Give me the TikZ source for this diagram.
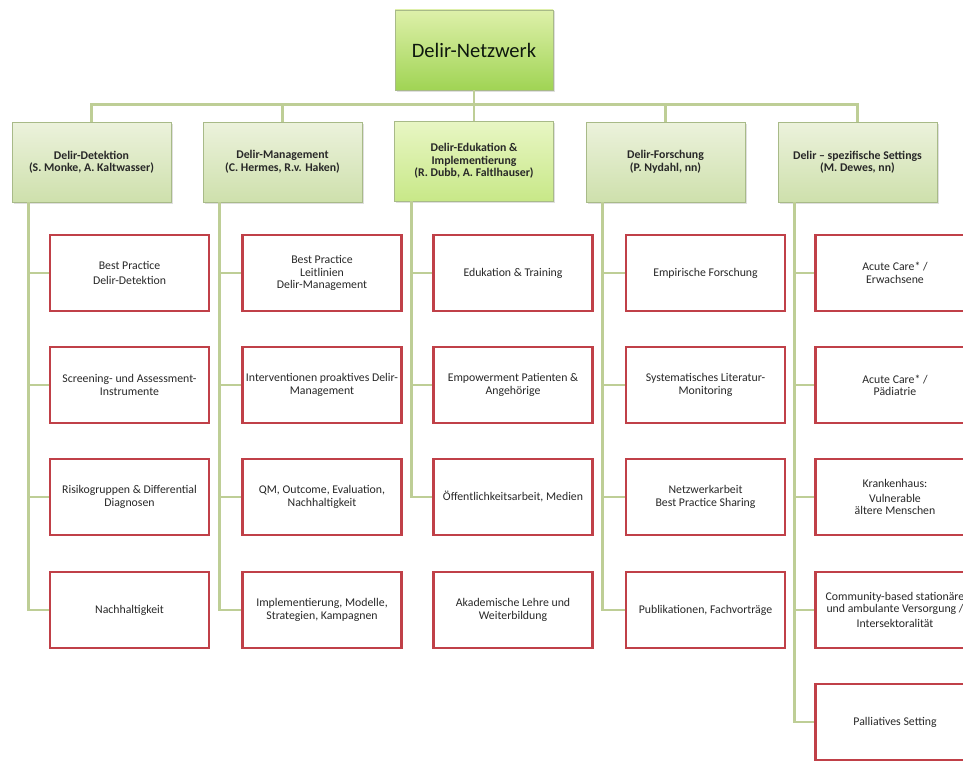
\documentclass[tikz,border=0pt]{standalone}
\usepackage{fontspec}
\setmainfont{Carlito}
\usetikzlibrary{shadows}

\definecolor{linegreen}{RGB}{190,206,150}
\definecolor{boxred}{RGB}{192,64,72}
\definecolor{headtop}{RGB}{236,242,220}
\definecolor{headbot}{RGB}{206,224,172}
\definecolor{edutop}{RGB}{232,246,196}
\definecolor{edubot}{RGB}{200,232,136}
\definecolor{nettop}{RGB}{222,240,170}
\definecolor{netbot}{RGB}{160,212,84}
\definecolor{headline}{RGB}{168,186,136}
\definecolor{txt}{RGB}{40,40,40}

\begin{document}
\begin{tikzpicture}[x=1pt,y=1pt]
        % Define the styles for the boxes and lines
        \tikzset{
          netbox/.style={draw=headline,line width=0.6pt,top color=nettop,bottom color=netbot,
            minimum width=158pt,minimum height=80pt,font=\fontsize{20.5}{24}\selectfont,text=txt!90!green!40!black,
            drop shadow={shadow xshift=1.5pt,shadow yshift=-1.5pt,opacity=0.25}},
          headbox/.style={draw=headline,line width=0.6pt,top color=headtop,bottom color=headbot,
            minimum width=159pt,minimum height=80pt,align=center,font=\fontsize{11.8}{12.5}\selectfont\bfseries,text=txt,
            drop shadow={shadow xshift=1.5pt,shadow yshift=-1.5pt,opacity=0.25}},
          edubox/.style={headbox,top color=edutop,bottom color=edubot},
          itembox/.style={draw=boxred,line width=2.6pt,fill=white,minimum width=159pt,minimum height=76pt,
            align=center,font=\fontsize{11.8}{12.3}\selectfont,text=txt},
          link/.style={draw=linegreen,line width=2.6pt}
        }
        \useasboundingbox (0,0) rectangle (963,-760);
        \clip (0,0) rectangle (963,-760);

        % Nodes
        \node[netbox] (net) at (474,-50) {Delir-Netzwerk};

        \node[headbox] (h1) at (91.5,-162) {Delir-Detektion\\(S. Monke, A. Kaltwasser)};
        \node[headbox] (h2) at (282.5,-162) {Delir-Management\\(C. Hermes, R.v. Haken)};
        \node[edubox] (h3) at (474,-161) {Delir-Edukation \&\\Implementierung\\(R. Dubb, A. Faltlhauser)};
        \node[headbox] (h4) at (665.5,-162) {Delir-Forschung\\(P. Nydahl, nn)};
        \node[headbox] (h5) at (857.5,-162) {Delir -- spezifische Settings\\(M. Dewes, nn)};

        \node[itembox] (c11) at (129.5,-273) {Best Practice\\[3pt]Delir-Detektion};
        \node[itembox] (c12) at (129.5,-385) {Screening- und Assessment-\\Instrumente};
        \node[itembox] (c13) at (129.5,-497) {Risikogruppen \& Differential\\Diagnosen};
        \node[itembox] (c14) at (129.5,-610) {Nachhaltigkeit};

        \node[itembox] (c21) at (322,-273) {Best Practice\\Leitlinien\\Delir-Management};
        \node[itembox] (c22) at (322,-385) {Interventionen proaktives Delir-\\Management};
        \node[itembox] (c23) at (322,-497) {QM, Outcome, Evaluation,\\Nachhaltigkeit};
        \node[itembox] (c24) at (322,-610) {Implementierung, Modelle,\\Strategien, Kampagnen};

        \node[itembox] (c31) at (513,-273) {Edukation \& Training};
        \node[itembox] (c32) at (513,-385) {Empowerment Patienten \&\\Angehörige};
        \node[itembox] (c33) at (513,-497) {Öffentlichkeitsarbeit, Medien};
        \node[itembox] (c34) at (513,-610) {Akademische Lehre und\\Weiterbildung};

        \node[itembox] (c41) at (705.5,-273) {Empirische Forschung};
        \node[itembox] (c42) at (705.5,-385) {Systematisches Literatur-\\Monitoring};
        \node[itembox] (c43) at (705.5,-497) {Netzwerkarbeit\\Best Practice Sharing};
        \node[itembox] (c44) at (705.5,-610) {Publikationen, Fachvorträge};

        \node[itembox] (c51) at (895,-273) {Acute Care* /\\Erwachsene};
        \node[itembox] (c52) at (895,-385) {Acute Care* /\\Pädiatrie};
        \node[itembox] (c53) at (895,-497) {Krankenhaus:\\[3pt]Vulnerable\\ältere Menschen};
        \node[itembox] (c54) at (895,-610) {Community-based stationäre\\und ambulante Versorgung /\\[3pt]Intersektoralität};
        \node[itembox] (c55) at (895,-722) {Palliatives Setting};

        % Edges
        \begin{scope}[on background layer/.try]
        \foreach \h in {h1,h2,h3,h4,h5}
          \draw[link] (net.south) -- ++(0,-14) -| (\h.north);
        \foreach \c in {c11,c12,c13,c14}
          \draw[link] ([xshift=17pt]h1.south west) |- (\c.west);
        \foreach \c in {c21,c22,c23,c24}
          \draw[link] ([xshift=17pt]h2.south west) |- (\c.west);
        \foreach \c in {c31,c32,c33}
          \draw[link] ([xshift=17pt]h3.south west) |- (\c.west);
        \foreach \c in {c41,c42,c43,c44}
          \draw[link] ([xshift=17pt]h4.south west) |- (\c.west);
        \foreach \c in {c51,c52,c53,c54,c55}
          \draw[link] ([xshift=17pt]h5.south west) |- (\c.west);
        \end{scope}
    \end{tikzpicture}
\end{document}
